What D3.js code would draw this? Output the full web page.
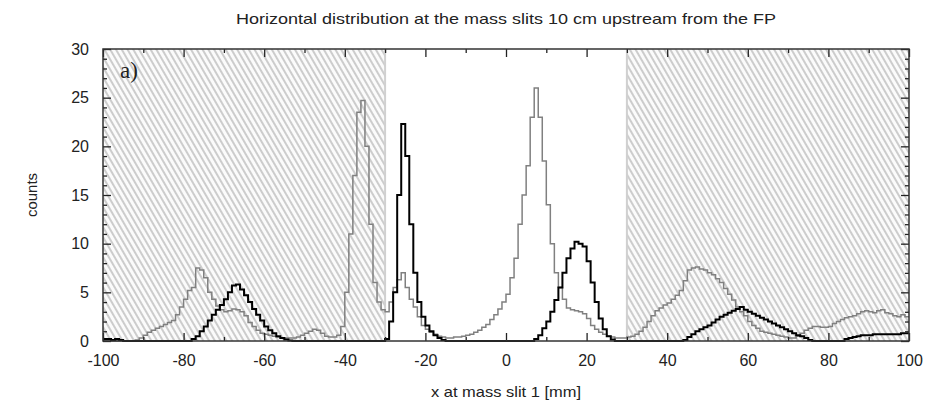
<!DOCTYPE html>
<html>
<head>
<meta charset="utf-8">
<script src="https://cdn.jsdelivr.net/npm/d3@7"></script>
<style>
  html, body { margin: 0; padding: 0; background: #fff; }
  svg { display: block; }
  text { font-family: "Liberation Sans", Arial, sans-serif; fill: #222; }
</style>
</head>
<body>
<div id="chart"></div>
<script>
// ---------------- data ----------------
const binStart = -100;   // left edge of first bin [mm]
const binWidth = 1;      // bin width [mm]

// grey histogram (one value per 1 mm bin, from -100 to 100)
const greyCounts = [
  0,0,0,0,0,0,0,0,0.1,0.3,
  0.6,0.9,1.1,1.3,1.5,1.7,1.9,2.1,2.7,3.5,
  4.3,5.2,5.5,7.5,7.3,6.5,5.0,4.3,3.6,3.2,
  3.0,3.1,3.3,3.2,3.0,2.6,1.9,1.5,1.1,0.8,
  0.7,0.6,0.5,0.4,0.3,0.3,0.3,0.3,0.4,0.6,
  0.8,1.0,1.2,1.1,0.8,0.5,0.4,0.4,0.6,1.5,
  5,11,17,23.5,24.7,20,12,6,4,3.2,
  3.0,4,5.5,6.3,7,5.5,4.3,3.5,2.5,1.6,
  1.2,0.9,0.7,0.5,0.4,0.3,0.3,0.4,0.4,0.5,
  0.6,0.7,0.9,1.1,1.4,1.7,2.2,2.7,3.3,4.0,
  4.8,6.5,8.5,12,15,18,23,26,23,18.5,
  14,10,7,5.5,4.3,3.4,3.2,3.1,3.0,2.8,
  2.3,1.6,1.2,0.9,0.7,0.5,0.4,0.3,0.3,0.3,
  0.4,0.5,0.7,1.0,1.4,2.0,2.6,3.1,3.4,3.7,
  3.9,4.3,4.7,5.2,6.2,7.3,7.5,7.6,7.4,7.3,
  7.0,6.8,6.4,6.0,5.4,4.8,4.2,3.5,3.0,2.6,
  2.0,1.6,1.3,1.0,0.9,0.8,0.7,0.6,0.5,0.4,
  0.3,0.3,0.5,0.8,1.1,1.3,1.5,1.5,1.4,1.4,
  1.5,1.8,2.0,2.2,2.4,2.5,2.6,2.8,3.0,3.1,
  3.0,2.9,3.1,3.2,2.9,2.8,2.6,2.5,2.7,2.5
];

// black histogram
const blackCounts = [
  0.2,0.2,0.1,0.2,0.1,0,0,0,0,0,
  0,0,0,0,0,0,0,0,0,0,
  0,0,0.2,0.5,1.0,1.5,2.1,2.7,3.2,3.7,
  4.3,5.0,5.7,5.8,5.3,4.7,4.0,3.3,2.7,2.1,
  1.5,1.1,0.8,0.5,0.3,0.15,0.05,0,0,0,
  0,0,0,0,0,0,0,0,0,0,
  0,0,0,0,0,0,0,0,0,0,
  0.2,2,5,15,22.3,19,12,7,4,2.5,
  1.6,1.0,0.6,0.3,0.1,0,0,0,0,0,
  0,0,0,0,0,0,0,0,0,0,
  0,0,0,0,0,0,0,0.2,0.6,1.3,
  2.0,3.0,4.2,5.5,7.0,8.5,9.5,10.2,10.0,9.7,
  8.2,6.0,4.0,2.3,1.2,0.5,0.15,0,0,0,
  0,0,0,0,0,0,0,0,0,0,
  0,0,0,0,0.1,0.4,0.7,1.0,1.2,1.4,
  1.6,1.9,2.2,2.5,2.7,2.9,3.1,3.3,3.5,3.2,
  3.0,2.8,2.6,2.4,2.2,2.0,1.8,1.6,1.4,1.2,
  1.0,0.8,0.6,0.5,0.3,0.1,0,0,0,0,
  0,0,0,0,0.2,0.3,0.4,0.5,0.6,0.6,
  0.6,0.7,0.7,0.7,0.7,0.7,0.7,0.7,0.8,0.8
];

// shaded (blocked) regions [mm]
const shadedRegions = [[-100, -30], [30, 100]];

const xMajorTicks = [-100, -80, -60, -40, -20, 0, 20, 40, 60, 80, 100];
const xMinorTicks = [-90, -70, -50, -30, -10, 10, 30, 50, 70, 90];
const yMajorTicks = [0, 5, 10, 15, 20, 25, 30];
const yMinorTicks = [1,2,3,4,6,7,8,9,11,12,13,14,16,17,18,19,21,22,23,24,26,27,28,29];

const titleText = "Horizontal distribution at the mass slits 10 cm upstream from the FP";
const xLabel = "x at mass slit 1 [mm]";
const yLabel = "counts";
const panelLabel = "a)";

// ---------------- layout ----------------
const W = 930, H = 409;
const M = { left: 103, right: 21, top: 49, bottom: 68 };
const iw = W - M.left - M.right;
const ih = H - M.top - M.bottom;

const svg = d3.select("#chart").append("svg").attr("width", W).attr("height", H);

const x = d3.scaleLinear().domain([-100, 100]).range([0, iw]);
const y = d3.scaleLinear().domain([0, 30]).range([ih, 0]);

const defs = svg.append("defs");
const pat = defs.append("pattern")
  .attr("id", "hatch").attr("patternUnits", "userSpaceOnUse")
  .attr("width", 5).attr("height", 5)
  .attr("patternTransform", "rotate(-30)");
pat.append("rect").attr("width", 5).attr("height", 5).attr("fill", "#fbfbfb");
pat.append("line").attr("x1", 1).attr("y1", 0).attr("x2", 1).attr("y2", 5)
  .attr("stroke", "#b4b4b4").attr("stroke-width", 1.3);

const g = svg.append("g").attr("transform", `translate(${M.left},${M.top})`);

// shaded regions
g.selectAll("rect.shade").data(shadedRegions).join("rect")
  .attr("class", "shade")
  .attr("x", d => x(d[0])).attr("y", 0)
  .attr("width", d => x(d[1]) - x(d[0])).attr("height", ih)
  .attr("fill", "url(#hatch)");
// boundary lines of the open window
g.selectAll("line.bound").data([shadedRegions[0][1], shadedRegions[1][0]]).join("line")
  .attr("class", "bound")
  .attr("x1", d => x(d)).attr("x2", d => x(d))
  .attr("y1", 0).attr("y2", ih)
  .attr("stroke", "#d0d0d0").attr("stroke-width", 2);

// histograms
function stepPoints(counts) {
  const pts = counts.map((v, i) => [binStart + i * binWidth, v]);
  pts.push([binStart + counts.length * binWidth, counts[counts.length - 1]]);
  return pts;
}
const line = d3.line().x(d => x(d[0])).y(d => y(d[1])).curve(d3.curveStepAfter);

g.append("path").datum(stepPoints(greyCounts))
  .attr("d", line).attr("fill", "none")
  .attr("stroke", "#808080").attr("stroke-width", 1.5);
g.append("path").datum(stepPoints(blackCounts))
  .attr("d", line).attr("fill", "none")
  .attr("stroke", "#000").attr("stroke-width", 2);

// axes (ticks inward on all sides)
const fmt = d => String(d);
function styleAxis(sel) {
  sel.select(".domain").remove();
  sel.selectAll(".tick line").attr("stroke", "#222").attr("stroke-width", 1.3);
  sel.selectAll(".tick text").style("font-family", '"Liberation Sans", Arial, sans-serif')
    .style("font-size", "16px").attr("fill", "#222");
}
g.append("g").attr("transform", `translate(0,${ih})`)
  .call(d3.axisBottom(x).tickValues(xMajorTicks).tickSize(-8).tickPadding(14).tickFormat(fmt))
  .call(styleAxis);
g.append("g").attr("transform", `translate(0,${ih})`)
  .call(d3.axisBottom(x).tickValues(xMinorTicks).tickSize(-4).tickFormat(""))
  .call(styleAxis);
g.append("g")
  .call(d3.axisTop(x).tickValues(xMajorTicks).tickSize(-8).tickFormat(""))
  .call(styleAxis);
g.append("g")
  .call(d3.axisTop(x).tickValues(xMinorTicks).tickSize(-4).tickFormat(""))
  .call(styleAxis);
g.append("g")
  .call(d3.axisLeft(y).tickValues(yMajorTicks).tickSize(-8).tickPadding(14).tickFormat(fmt))
  .call(styleAxis);
g.append("g")
  .call(d3.axisLeft(y).tickValues(yMinorTicks).tickSize(-4).tickFormat(""))
  .call(styleAxis);
g.append("g").attr("transform", `translate(${iw},0)`)
  .call(d3.axisRight(y).tickValues(yMajorTicks).tickSize(-8).tickFormat(""))
  .call(styleAxis);
g.append("g").attr("transform", `translate(${iw},0)`)
  .call(d3.axisRight(y).tickValues(yMinorTicks).tickSize(-4).tickFormat(""))
  .call(styleAxis);

// frame
g.append("rect").attr("width", iw).attr("height", ih)
  .attr("fill", "none").attr("stroke", "#333").attr("stroke-width", 1.5);

// panel label
g.append("text").attr("x", 17).attr("y", 29)
  .style("font-family", '"Liberation Serif", "Times New Roman", serif')
  .style("font-size", "23px").attr("fill", "#333")
  .text(panelLabel);

// title and axis labels
svg.append("text").attr("x", 506).attr("y", 24)
  .attr("text-anchor", "middle").style("font-size", "15px")
  .attr("textLength", 540).attr("lengthAdjust", "spacingAndGlyphs")
  .text(titleText);
svg.append("text").attr("x", 506).attr("y", 397)
  .attr("text-anchor", "middle").style("font-size", "15px")
  .attr("textLength", 150).attr("lengthAdjust", "spacingAndGlyphs")
  .text(xLabel);
svg.append("text")
  .attr("transform", `translate(37,${M.top + ih / 2}) rotate(-90)`)
  .attr("text-anchor", "middle").style("font-size", "15px").text(yLabel);
</script>
</body>
</html>
